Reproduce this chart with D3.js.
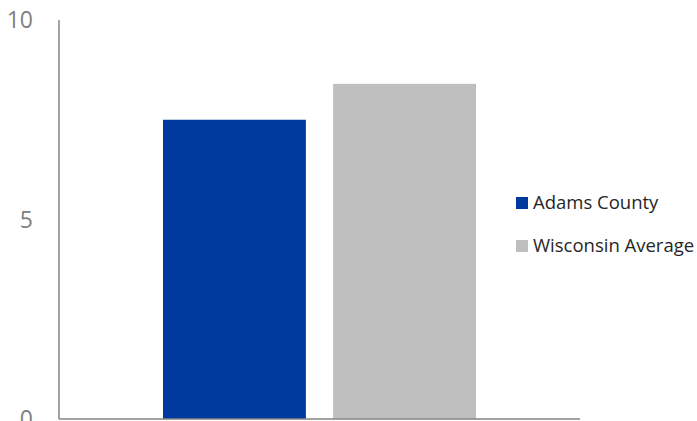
<!DOCTYPE html>
<html>
<head>
<meta charset="utf-8">
<script src="https://cdn.jsdelivr.net/npm/d3@7"></script>
<style>
  html, body { margin: 0; padding: 0; background: #fff; }
  svg { display: block; }
</style>
</head>
<body>
<svg id="chart" width="697" height="421"></svg>
<script>
// Series shown side by side in a single group
const seriesNames = ["Adams County", "Wisconsin Average"];
const seriesValues = [7.5, 8.4];
const seriesColors = ["#003A9E", "#BFBFBF"];
const tickValues = [0, 5, 10];

const svg = d3.select("#chart");
const margin = { left: 59, right: 117, top: 20, bottom: 2 };
const W = 697, H = 421;
const x0 = margin.left, x1 = W - margin.right;
const yTop = margin.top, yBottom = 419;

const y = d3.scaleLinear().domain([0, 10]).range([yBottom, yTop]);

// Band layout: the pair of bars sits centred in the plot
const outer = d3.scaleBand().domain(["group"]).range([x0, x1]).paddingOuter(0.2).paddingInner(0);
const groupWidth = 313;
const inner = d3.scaleBand()
  .domain(seriesNames)
  .range([outer("group") + outer.bandwidth() / 2 - groupWidth / 2,
          outer("group") + outer.bandwidth() / 2 + groupWidth / 2])
  .paddingInner(0.16);

svg.selectAll("rect.bar")
  .data(seriesNames.map((n, i) => ({ name: n, value: seriesValues[i], color: seriesColors[i] })))
  .join("rect")
  .attr("class", "bar")
  .attr("x", d => inner(d.name))
  .attr("width", inner.bandwidth())
  .attr("y", d => y(d.value))
  .attr("height", d => y(0) - y(d.value))
  .attr("fill", d => d.color);

// Axis lines
svg.append("line")
  .attr("x1", x0).attr("x2", x0)
  .attr("y1", yTop).attr("y2", yBottom)
  .attr("stroke", "#858585").attr("stroke-width", 1.5);
svg.append("line")
  .attr("x1", x0).attr("x2", 580)
  .attr("y1", yBottom).attr("y2", yBottom)
  .attr("stroke", "#858585").attr("stroke-width", 1.5);

// Tick labels
svg.selectAll("text.tick")
  .data(tickValues)
  .join("text")
  .attr("class", "tick")
  .attr("x", 33)
  .attr("y", d => y(d))
  .attr("dy", "0.36em")
  .attr("text-anchor", "end")
  .attr("font-family", "'Open Sans', sans-serif")
  .attr("font-size", 23)
  .attr("fill", "#808080")
  .text(d => d);

// Legend
const legend = svg.append("g").attr("transform", "translate(516,197)");
const items = legend.selectAll("g")
  .data(seriesNames.map((n, i) => ({ name: n, color: seriesColors[i] })))
  .join("g")
  .attr("transform", (d, i) => `translate(0,${i * 43})`);
items.append("rect")
  .attr("width", 12).attr("height", 12)
  .attr("fill", d => d.color);
items.append("text")
  .attr("x", 17).attr("y", 6)
  .attr("dy", "0.35em")
  .attr("font-family", "'Open Sans', sans-serif")
  .attr("font-size", 18.5)
  .attr("fill", "#262626")
  .text(d => d.name);
</script>
</body>
</html>
